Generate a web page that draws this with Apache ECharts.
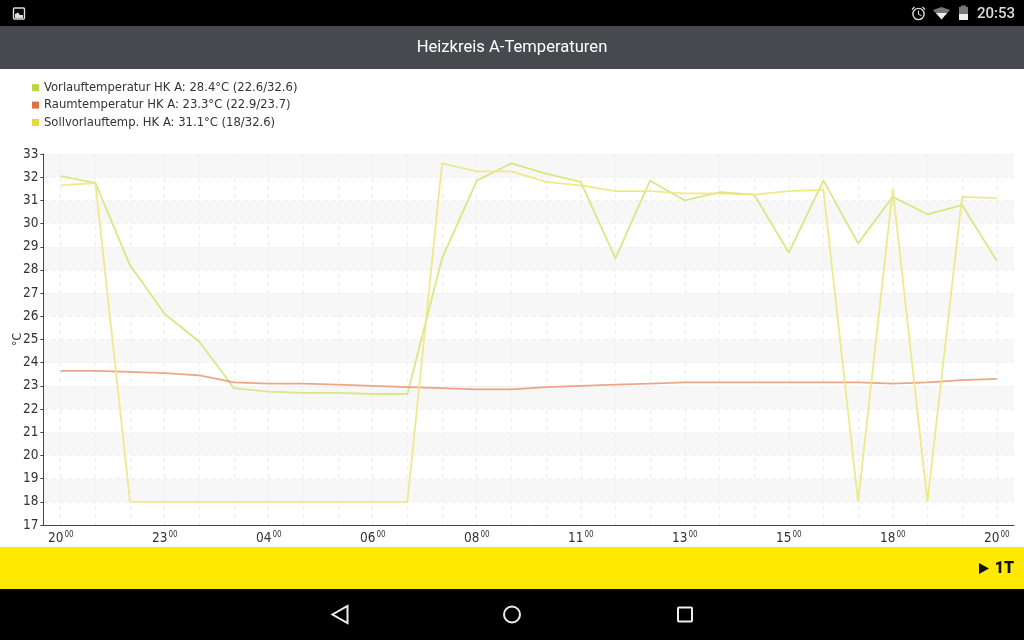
<!DOCTYPE html>
<html>
<head>
<meta charset="utf-8">
<title>Heizkreis A-Temperaturen</title>
<style>
    html, body { margin: 0; padding: 0; background: #fff; }
    #chart { width: 1024px; height: 640px; }
</style>
<script src="https://cdn.jsdelivr.net/npm/echarts@6/dist/echarts.min.js"></script>
</head>
<body>
<div id="chart"></div>
<script>
const tickLabels = ['20', '', '', '23', '', '', '04', '', '', '06', '', '', '08', '', '', '11', '', '', '13', '', '', '15', '', '', '18', '', '', '20'];
const vorlauf = [32.05, 31.75, 28.2, 26.1, 24.9, 22.9, 22.75, 22.7, 22.7, 22.65, 22.65, 28.5, 31.85, 32.6, 32.15, 31.8, 28.5, 31.85, 31.0, 31.35, 31.25, 28.75, 31.85, 29.15, 31.15, 30.4, 30.8, 28.4];
const raum = [23.65, 23.65, 23.6, 23.55, 23.45, 23.15, 23.1, 23.1, 23.05, 23, 22.95, 22.9, 22.85, 22.85, 22.95, 23, 23.05, 23.1, 23.15, 23.15, 23.15, 23.15, 23.15, 23.15, 23.1, 23.15, 23.25, 23.3];
const soll = [31.65, 31.75, 18, 18, 18, 18, 18, 18, 18, 18, 18, 32.6, 32.25, 32.25, 31.8, 31.65, 31.4, 31.4, 31.3, 31.3, 31.25, 31.4, 31.45, 18, 31.5, 18, 31.15, 31.1];
const legendNames = [
    'Vorlauftemperatur HK A: 28.4°C (22.6/32.6)',
    'Raumtemperatur HK A: 23.3°C (22.9/23.7)',
    'Sollvorlauftemp. HK A: 31.1°C (18/32.6)'
];

const axisFont = '"Liberation Sans Narrow", "DejaVu Sans Condensed", sans-serif';
const axisColor = '#444';
const gridLine = { show: true, lineStyle: { color: '#eeeeee', type: [4, 4], width: 1 } };

function makeLine(name, values, lineColor, legendColor) {
    return {
        name: name,
        type: 'line',
        data: values,
        showSymbol: false,
        silent: true,
        animation: false,
        itemStyle: { color: legendColor },
        lineStyle: { color: lineColor, width: 1.8 }
    };
}

// Android-Rahmen um das Diagramm
const frame = [
    { type: 'rect', z: 0, shape: { x: 0, y: 0, width: 1024, height: 26 }, style: { fill: '#000' } },
    { type: 'rect', z: 0, shape: { x: 0, y: 26, width: 1024, height: 43 }, style: { fill: '#48494e' } },
    { type: 'rect', z: 0, shape: { x: 0, y: 547, width: 1024, height: 42 }, style: { fill: '#ffe900' } },
    { type: 'rect', z: 0, shape: { x: 0, y: 589, width: 1024, height: 51 }, style: { fill: '#000' } },
    // Bild-Symbol links oben
    { type: 'rect', z: 1, shape: { x: 13.5, y: 8, width: 11, height: 11, r: 1 }, style: { fill: 'none', stroke: '#ddd', lineWidth: 1.4 } },
    { type: 'polygon', z: 1, shape: { points: [[15, 18], [15, 14], [18, 12.5], [20, 15], [23, 15], [23, 18]] }, style: { fill: '#ddd' } },
    // Wecker
    { type: 'circle', z: 1, shape: { cx: 918.5, cy: 14, r: 5.6 }, style: { fill: 'none', stroke: '#ddd', lineWidth: 1.4 } },
    { type: 'polyline', z: 1, shape: { points: [[918.5, 10.5], [918.5, 14.5], [921.5, 15.5]] }, style: { fill: 'none', stroke: '#ddd', lineWidth: 1 } },
    { type: 'line', z: 1, shape: { x1: 912, y1: 9.5, x2: 914.5, y2: 7 }, style: { stroke: '#ddd', lineWidth: 1.3 } },
    { type: 'line', z: 1, shape: { x1: 922.5, y1: 7, x2: 925, y2: 9.5 }, style: { stroke: '#ddd', lineWidth: 1.3 } },
    // WLAN
    { type: 'polygon', z: 1, shape: { points: [[933, 10], [941.5, 7], [950, 10], [941.5, 19.5]] }, style: { fill: '#777' } },
    { type: 'polygon', z: 1, shape: { points: [[936, 13], [947, 13], [941.5, 19.5]] }, style: { fill: '#eee' } },
    // Akku
    { type: 'rect', z: 1, shape: { x: 959, y: 7, width: 9, height: 13 }, style: { fill: '#777' } },
    { type: 'rect', z: 1, shape: { x: 961, y: 5.5, width: 5, height: 2 }, style: { fill: '#777' } },
    { type: 'rect', z: 1, shape: { x: 959, y: 14, width: 9, height: 6 }, style: { fill: '#eee' } },
    { type: 'text', z: 1, style: { x: 1015, y: 14, text: '20:53', fill: '#ddd', align: 'right', verticalAlign: 'middle', font: '500 15px Roboto' } },
    { type: 'text', z: 1, style: { x: 512, y: 48, text: 'Heizkreis A-Temperaturen', fill: '#fff', align: 'center', verticalAlign: 'middle', font: '16.6px Roboto' } },
    // gelbe Leiste
    { type: 'polygon', z: 1, shape: { points: [[979, 563], [979, 574], [989, 568.5]] }, style: { fill: '#111' } },
    { type: 'text', z: 1, style: { x: 1014, y: 568.5, text: '1T', fill: '#111', align: 'right', verticalAlign: 'middle', font: '900 16px Roboto' } },
    // Navigationstasten
    { type: 'polygon', z: 1, shape: { points: [[347.5, 606], [347.5, 623], [332.5, 614.5]] }, style: { fill: 'none', stroke: '#eee', lineWidth: 2 } },
    { type: 'circle', z: 1, shape: { cx: 512, cy: 614.5, r: 8 }, style: { fill: 'none', stroke: '#eee', lineWidth: 2 } },
    { type: 'rect', z: 1, shape: { x: 678, y: 607.5, width: 14, height: 14, r: 1 }, style: { fill: 'none', stroke: '#eee', lineWidth: 2 } }
];

let option = {
    animation: false,
    backgroundColor: '#fff',
    textStyle: { fontFamily: axisFont },
    grid: { left: 43.4, top: 154, width: 970.7, height: 371, outerBoundsMode: 'none' },
    legend: {
        orient: 'vertical',
        left: 32,
        top: 81,
        icon: 'rect',
        itemWidth: 7,
        itemHeight: 7,
        itemGap: 4,
        padding: 0,
        selectedMode: false,
        data: legendNames,
        textStyle: { color: '#333', fontSize: 11.6, fontFamily: '"DejaVu Sans", sans-serif', lineHeight: 13.4, padding: [0, 0, 0, 0] }
    },
    xAxis: {
        type: 'category',
        boundaryGap: true,
        data: tickLabels,
        axisLine: { lineStyle: { color: axisColor, width: 1 } },
        axisTick: { alignWithLabel: true, interval: 0, length: 3, inside: false, lineStyle: { color: axisColor } },
        splitLine: Object.assign({ alignWithLabel: true, interval: 0 }, gridLine),
        axisLabel: {
            interval: 0,
            margin: 6,
            color: '#333',
            formatter: function (v) {
                return v ? '{h|' + v + '}{m|00}' : '';
            },
            rich: {
                h: { fontSize: 13.5, fontFamily: axisFont, color: '#333' },
                m: { fontSize: 8, fontFamily: axisFont, color: '#333', verticalAlign: 'top', padding: [0, 0, 4, 1] }
            }
        }
    },
    yAxis: {
        type: 'value',
        min: 17,
        max: 33,
        interval: 1,
        name: '°C',
        nameLocation: 'middle',
        nameGap: 20,
        nameMoveOverlap: false,
        nameTextStyle: { color: '#333', fontSize: 12, fontFamily: axisFont },
        axisLine: { show: true, lineStyle: { color: axisColor, width: 1 } },
        axisTick: { show: true, length: 3, lineStyle: { color: axisColor } },
        axisLabel: { color: '#333', fontSize: 13.5, margin: 5, fontFamily: axisFont },
        splitLine: gridLine,
        splitArea: { show: true, areaStyle: { color: ['#ffffff', '#f7f7f8'] } }
    },
    graphic: frame,
    series: [
        makeLine(legendNames[0], vorlauf, 'rgba(214,228,120,0.9)', '#b9d63c'),
        makeLine(legendNames[1], raum, 'rgba(232,150,115,0.85)', '#e0703c'),
        makeLine(legendNames[2], soll, 'rgba(236,232,125,0.9)', '#e6da34')
    ]
};

echarts.init(document.getElementById('chart')).setOption(option);
</script>
</body>
</html>
